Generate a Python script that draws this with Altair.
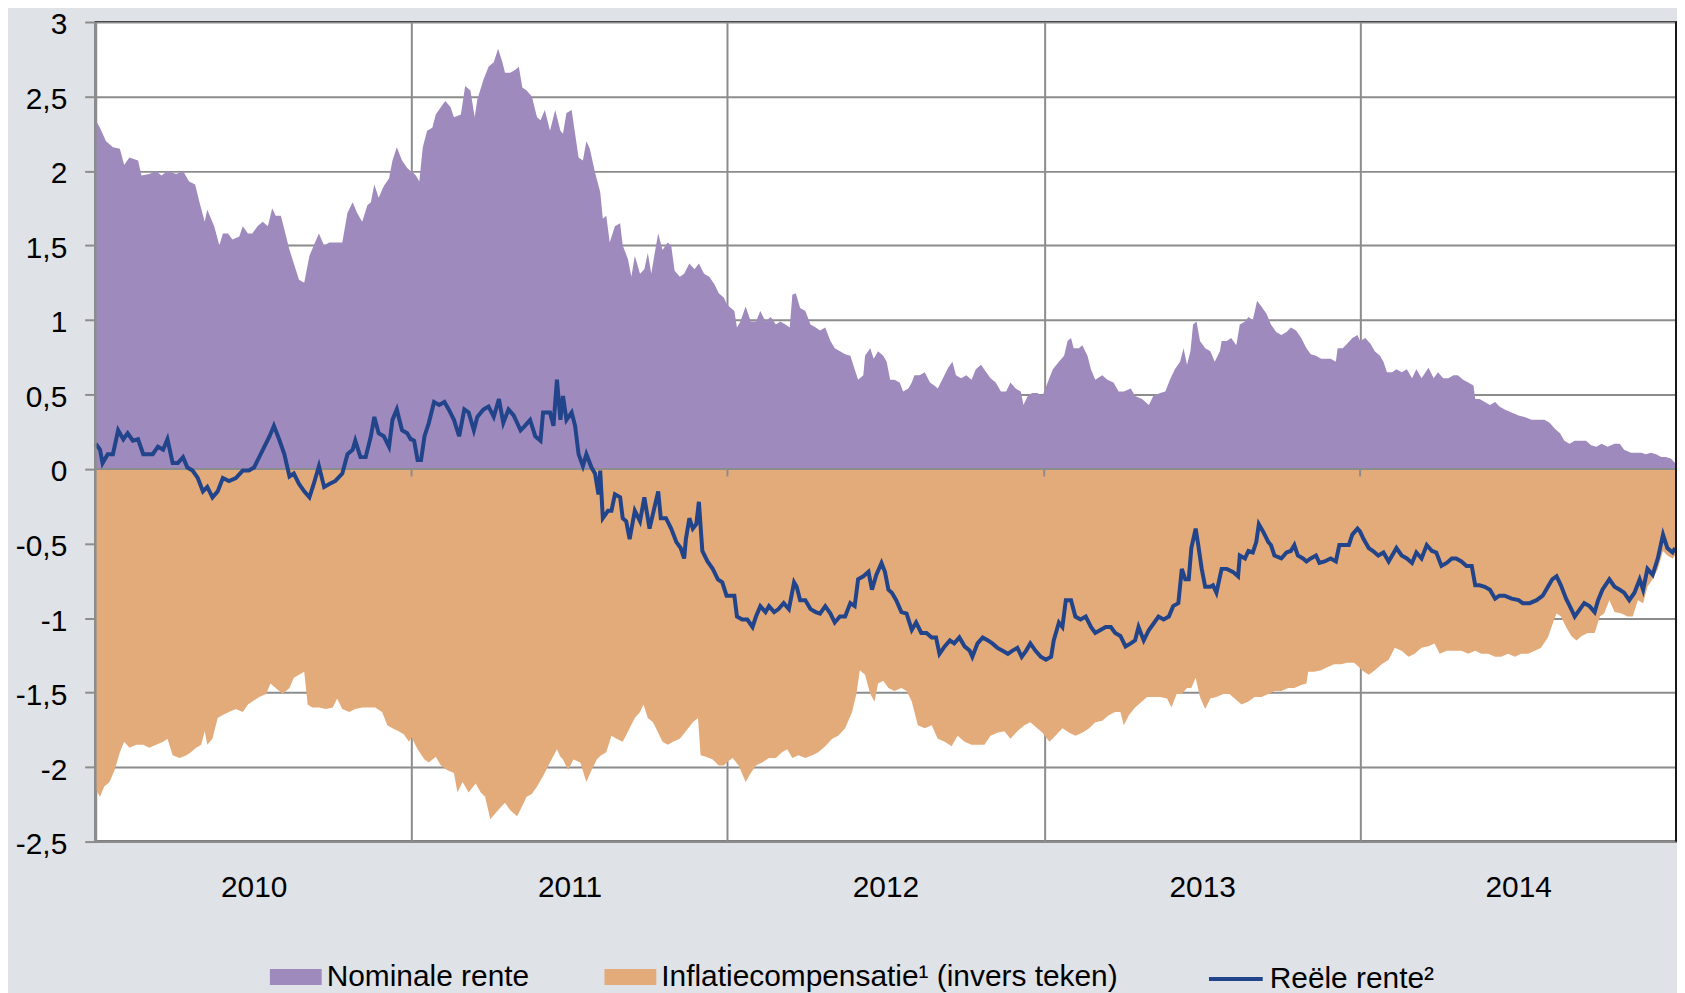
import altair as alt
import pandas as pd

# ---------------- data ----------------
YEARS = [2010, 2011, 2012, 2013, 2014]
Y_TICKS = [-2.5, -2, -1.5, -1, -0.5, 0, 0.5, 1, 1.5, 2, 2.5, 3]

NOM_LABEL = "Nominale rente"
INF_LABEL = "Inflatiecompensatie¹ (invers teken)"
REAL_LABEL = "Reële rente²"

# Nominale rente (day of year, value)
NOM_2010_DAYS = [0,5,12,20,28,33,39,49,53,62,70,76,83,93,101,108,115,120,126,129,137,143,147,153,158,166,170,176,181,187,193,199,204,208,214,218,224,229,235,241,247,252,258,264,270,277,285,291,297,302,308,314,318,322,327,333,339,343,348,354,360,364]
NOM_2010 = [2.34,2.29,2.20,2.16,2.15,2.04,2.09,2.07,1.97,1.98,2.00,1.97,2.00,1.98,2.00,1.93,1.91,1.79,1.66,1.74,1.63,1.50,1.58,1.58,1.54,1.56,1.63,1.58,1.58,1.63,1.66,1.63,1.75,1.70,1.70,1.61,1.47,1.38,1.27,1.25,1.43,1.50,1.58,1.50,1.52,1.52,1.52,1.72,1.79,1.72,1.66,1.77,1.79,1.91,1.82,1.90,1.95,2.07,2.16,2.07,2.02,2.00]
NOM_2011_DAYS = [0,5,9,13,18,24,28,34,39,45,49,57,62,68,73,76,83,89,95,100,105,108,114,120,124,128,133,139,145,149,154,160,166,172,175,179,185,189,193,198,202,206,212,218,221,225,229,235,241,244,250,254,258,264,269,273,277,281,285,290,296,300,304,310,315,321,327,332,338,344,350,355,361,364]
NOM_2011 = [2.00,1.97,1.93,2.16,2.27,2.29,2.38,2.43,2.47,2.43,2.36,2.38,2.57,2.54,2.36,2.48,2.61,2.70,2.73,2.82,2.73,2.66,2.66,2.68,2.70,2.56,2.54,2.50,2.36,2.34,2.41,2.27,2.41,2.27,2.25,2.39,2.41,2.25,2.09,2.07,2.20,2.15,1.99,1.86,1.68,1.70,1.52,1.63,1.65,1.50,1.41,1.29,1.43,1.31,1.34,1.45,1.31,1.45,1.58,1.47,1.52,1.50,1.33,1.29,1.31,1.38,1.34,1.38,1.31,1.29,1.24,1.18,1.15,1.11]
NOM_2012_DAYS = [2,8,11,15,21,27,33,38,44,50,56,61,67,72,75,79,84,90,96,102,107,113,119,124,130,136,142,147,151,157,159,165,169,174,180,184,188,193,199,203,209,213,216,222,228,234,239,243,249,255,260,264,270,276,282,287,293,299,304,310,316,322,327,333,339,342,347,352,358,364]
NOM_2012 = [1.09,1.06,0.95,0.99,1.09,0.99,0.99,1.06,0.99,1.02,0.97,0.99,0.97,0.95,1.17,1.18,1.08,1.06,0.97,0.95,0.93,0.95,0.86,0.81,0.79,0.77,0.76,0.67,0.60,0.63,0.76,0.81,0.74,0.79,0.76,0.72,0.60,0.60,0.58,0.52,0.54,0.58,0.63,0.63,0.65,0.58,0.56,0.54,0.61,0.68,0.72,0.63,0.61,0.63,0.60,0.67,0.70,0.65,0.61,0.58,0.52,0.52,0.58,0.54,0.52,0.43,0.49,0.51,0.51,0.49]
NOM_2013_DAYS = [4,10,17,23,27,31,34,40,44,50,54,59,67,73,80,86,92,100,105,113,121,126,134,140,146,151,157,161,165,169,172,176,180,186,192,197,203,205,211,216,222,226,232,236,241,246,251,257,262,268,274,280,285,291,297,303,308,314,320,326,331,337,339,345,350,356,362]
NOM_2013 = [0.58,0.67,0.72,0.76,0.86,0.88,0.81,0.81,0.83,0.76,0.67,0.60,0.63,0.60,0.58,0.52,0.52,0.54,0.49,0.47,0.43,0.49,0.51,0.52,0.61,0.67,0.72,0.81,0.70,0.79,0.97,0.99,0.86,0.81,0.79,0.72,0.79,0.86,0.86,0.88,0.83,0.97,0.99,1.02,1.00,1.13,1.09,1.04,0.97,0.92,0.90,0.92,0.95,0.93,0.88,0.81,0.77,0.76,0.74,0.74,0.74,0.72,0.81,0.81,0.84,0.88,0.90]
NOM_2014_DAYS = [0,6,12,17,23,27,31,37,42,48,54,60,65,71,79,85,90,96,102,108,113,119,125,131,133,138,144,150,156,161,167,175,183,190,198,206,213,219,225,231,236,242,248,256,261,267,273,279,286,294,300,305,313,319,325,330,336,342,348,353,359,364]
NOM_2014 = [0.86,0.88,0.84,0.79,0.76,0.72,0.65,0.65,0.67,0.65,0.67,0.61,0.67,0.61,0.68,0.61,0.65,0.61,0.61,0.63,0.63,0.60,0.58,0.56,0.47,0.47,0.45,0.43,0.45,0.42,0.40,0.38,0.36,0.35,0.33,0.33,0.33,0.31,0.27,0.24,0.19,0.17,0.19,0.19,0.19,0.16,0.15,0.17,0.15,0.17,0.17,0.13,0.11,0.11,0.11,0.10,0.11,0.10,0.08,0.08,0.07,0.04]

# Inflatiecompensatie, invers teken (day of year, value)
INF_2010_DAYS = [0,5,10,16,22,28,33,39,47,55,62,70,78,83,89,97,105,110,116,122,126,129,135,141,147,154,162,170,176,181,189,197,202,208,216,224,229,235,241,245,250,258,266,274,279,285,293,300,308,316,323,331,337,343,350,356,362]
INF_2010 = [-2.15,-2.20,-2.13,-2.10,-2.02,-1.90,-1.83,-1.87,-1.85,-1.85,-1.87,-1.85,-1.83,-1.81,-1.92,-1.94,-1.92,-1.90,-1.87,-1.85,-1.76,-1.85,-1.81,-1.67,-1.65,-1.63,-1.61,-1.63,-1.58,-1.56,-1.53,-1.51,-1.44,-1.47,-1.51,-1.47,-1.40,-1.38,-1.36,-1.58,-1.60,-1.60,-1.61,-1.60,-1.54,-1.61,-1.63,-1.61,-1.60,-1.60,-1.60,-1.63,-1.72,-1.74,-1.76,-1.78,-1.83]
INF_2011_DAYS = [0,7,15,20,28,34,41,49,53,59,66,74,80,85,91,97,103,108,114,122,128,133,139,145,152,160,168,172,175,181,187,195,202,208,214,219,225,231,237,244,252,258,264,268,273,279,285,290,296,302,310,317,325,331,334,340,348,355,361,364]
INF_2011 = [-1.80,-1.88,-1.95,-1.97,-1.93,-1.99,-2.02,-2.04,-2.17,-2.10,-2.17,-2.11,-2.17,-2.20,-2.35,-2.31,-2.27,-2.24,-2.29,-2.33,-2.26,-2.20,-2.18,-2.13,-2.06,-1.97,-1.88,-1.93,-1.95,-2.02,-1.95,-1.97,-2.10,-2.02,-1.95,-1.92,-1.90,-1.79,-1.81,-1.83,-1.74,-1.67,-1.63,-1.58,-1.67,-1.70,-1.77,-1.83,-1.85,-1.83,-1.81,-1.76,-1.70,-1.67,-1.92,-1.93,-1.95,-1.99,-1.99,-1.97]
INF_2012_DAYS = [6,13,21,27,33,40,48,56,63,69,75,82,90,98,105,113,121,128,136,144,149,153,159,165,170,174,180,186,193,201,207,213,220,228,236,243,251,259,266,274,282,289,297,304,312,320,327,335,343,350,358,364]
INF_2012 = [-1.94,-1.99,-2.10,-2.04,-1.99,-1.97,-1.94,-1.94,-1.90,-1.88,-1.94,-1.92,-1.94,-1.92,-1.90,-1.86,-1.81,-1.79,-1.74,-1.63,-1.51,-1.35,-1.38,-1.51,-1.56,-1.44,-1.42,-1.47,-1.49,-1.47,-1.49,-1.56,-1.72,-1.74,-1.72,-1.81,-1.83,-1.86,-1.79,-1.83,-1.85,-1.85,-1.85,-1.79,-1.77,-1.76,-1.81,-1.76,-1.72,-1.70,-1.74,-1.77]
INF_2013_DAYS = [6,13,21,29,36,44,52,59,67,75,82,88,92,98,105,113,119,126,134,142,147,153,159,165,170,175,180,186,192,199,207,214,220,228,236,243,251,259,266,274,282,289,297,303,305,312,320,327,335,343,350,358,364]
INF_2013 = [-1.83,-1.79,-1.74,-1.77,-1.79,-1.77,-1.74,-1.70,-1.69,-1.65,-1.63,-1.63,-1.72,-1.65,-1.60,-1.56,-1.53,-1.53,-1.53,-1.54,-1.60,-1.51,-1.51,-1.47,-1.47,-1.40,-1.53,-1.61,-1.54,-1.53,-1.51,-1.51,-1.54,-1.58,-1.56,-1.53,-1.53,-1.51,-1.49,-1.49,-1.47,-1.47,-1.45,-1.44,-1.36,-1.36,-1.35,-1.33,-1.31,-1.31,-1.30,-1.30,-1.33]
INF_2014_DAYS = [2,10,17,25,33,40,48,56,63,71,79,86,92,100,108,117,125,133,140,148,156,163,171,179,186,194,202,209,217,223,227,232,238,244,250,256,263,271,277,282,288,294,302,309,315,321,327,332,338,344,350,355,361,364]
INF_2014 = [-1.35,-1.38,-1.35,-1.31,-1.28,-1.20,-1.22,-1.26,-1.24,-1.20,-1.19,-1.17,-1.24,-1.22,-1.22,-1.22,-1.24,-1.22,-1.24,-1.24,-1.26,-1.26,-1.24,-1.26,-1.24,-1.24,-1.22,-1.20,-1.13,-1.03,-0.97,-0.99,-1.06,-1.12,-1.15,-1.12,-1.10,-1.10,-0.99,-0.97,-0.88,-0.96,-0.97,-0.99,-0.99,-0.88,-0.90,-0.79,-0.74,-0.67,-0.55,-0.58,-0.60,-0.58]

# Reele rente (day of year, value)
REAL_2010_DAYS = [0,5,8,14,20,26,32,37,43,49,55,60,66,72,78,83,89,95,101,106,112,118,124,129,135,141,147,154,162,170,177,183,189,195,201,206,212,218,224,229,235,241,247,252,258,264,270,277,285,291,297,300,306,312,318,322,327,333,339,343,348,354,360,364]
REAL_2010 = [0.17,0.13,0.04,0.10,0.10,0.26,0.20,0.24,0.19,0.20,0.10,0.10,0.10,0.15,0.13,0.20,0.04,0.04,0.08,0.01,-0.01,-0.06,-0.15,-0.12,-0.19,-0.15,-0.06,-0.08,-0.06,-0.01,-0.01,0.01,0.08,0.15,0.22,0.29,0.20,0.10,-0.05,-0.03,-0.10,-0.15,-0.19,-0.10,0.02,-0.12,-0.10,-0.08,-0.03,0.10,0.13,0.19,0.08,0.08,0.22,0.35,0.24,0.22,0.15,0.33,0.40,0.26,0.24,0.20]
REAL_2011_DAYS = [0,3,7,11,15,20,26,32,38,43,49,55,61,66,72,76,83,89,95,101,106,112,118,126,131,137,143,149,152,160,164,168,172,175,179,185,189,193,198,202,208,212,216,218,221,227,231,235,241,244,248,252,258,264,269,275,279,285,288,294,300,306,311,315,317,321,325,329,332,336,342,348,354,359,364]
REAL_2011 = [0.20,0.19,0.06,0.06,0.22,0.31,0.45,0.43,0.45,0.40,0.33,0.22,0.40,0.38,0.26,0.35,0.40,0.42,0.35,0.47,0.31,0.40,0.36,0.26,0.29,0.33,0.22,0.19,0.38,0.38,0.29,0.60,0.33,0.49,0.33,0.38,0.29,0.10,0.02,0.10,0.01,-0.03,-0.17,-0.01,-0.33,-0.28,-0.28,-0.17,-0.19,-0.33,-0.35,-0.47,-0.28,-0.35,-0.19,-0.40,-0.30,-0.15,-0.33,-0.33,-0.40,-0.49,-0.53,-0.60,-0.47,-0.33,-0.40,-0.37,-0.22,-0.55,-0.62,-0.67,-0.74,-0.76,-0.85]
REAL_2012_DAYS = [2,8,11,17,23,29,33,38,44,48,54,59,65,71,77,80,84,90,96,102,107,113,119,124,130,136,142,147,151,157,163,167,172,178,182,186,190,195,201,207,213,218,224,230,236,241,245,251,257,262,268,274,280,283,289,295,301,306,312,318,324,329,335,340,345,350,356,362]
REAL_2012 = [-0.85,-0.85,-0.99,-1.01,-1.01,-1.06,-0.99,-0.92,-0.96,-0.92,-0.96,-0.94,-0.90,-0.94,-0.76,-0.79,-0.88,-0.88,-0.94,-0.96,-0.97,-0.92,-0.97,-1.03,-0.99,-0.99,-0.90,-0.92,-0.74,-0.72,-0.69,-0.81,-0.71,-0.63,-0.69,-0.81,-0.83,-0.88,-0.96,-0.97,-1.08,-1.03,-1.10,-1.10,-1.13,-1.13,-1.24,-1.19,-1.15,-1.17,-1.13,-1.19,-1.22,-1.26,-1.17,-1.13,-1.15,-1.17,-1.20,-1.22,-1.24,-1.22,-1.20,-1.26,-1.22,-1.17,-1.22,-1.26]
REAL_2013_DAYS = [2,8,11,17,21,25,31,36,42,48,54,59,65,71,77,82,88,94,100,105,109,115,121,126,132,138,144,149,155,159,163,167,170,175,178,182,186,192,195,199,205,211,218,224,226,232,236,241,245,248,253,259,262,266,274,280,285,289,293,299,303,308,314,318,324,331,337,341,347,352,356,362]
REAL_2013 = [-1.28,-1.26,-1.15,-1.03,-1.06,-0.88,-0.88,-0.99,-1.01,-0.99,-1.06,-1.10,-1.08,-1.06,-1.06,-1.10,-1.12,-1.19,-1.17,-1.15,-1.06,-1.15,-1.08,-1.04,-0.99,-1.01,-0.99,-0.92,-0.90,-0.67,-0.74,-0.74,-0.53,-0.40,-0.51,-0.67,-0.79,-0.79,-0.78,-0.83,-0.67,-0.67,-0.69,-0.72,-0.58,-0.60,-0.55,-0.56,-0.49,-0.37,-0.42,-0.49,-0.51,-0.58,-0.60,-0.56,-0.55,-0.51,-0.58,-0.60,-0.62,-0.60,-0.58,-0.63,-0.62,-0.60,-0.62,-0.51,-0.51,-0.51,-0.44,-0.40]
REAL_2014_DAYS = [0,4,10,15,21,27,33,37,42,48,54,60,65,71,77,83,88,94,100,106,111,117,123,129,133,138,144,150,156,161,167,175,183,188,196,204,211,217,222,227,232,238,244,248,254,259,265,271,275,280,288,294,300,305,311,317,323,327,332,338,344,350,355,361,364]
REAL_2014 = [-0.42,-0.47,-0.53,-0.55,-0.58,-0.56,-0.62,-0.58,-0.53,-0.58,-0.60,-0.63,-0.56,-0.60,-0.51,-0.55,-0.56,-0.65,-0.63,-0.60,-0.60,-0.62,-0.65,-0.65,-0.78,-0.78,-0.79,-0.81,-0.87,-0.85,-0.85,-0.87,-0.88,-0.90,-0.90,-0.88,-0.85,-0.79,-0.74,-0.72,-0.78,-0.87,-0.94,-0.99,-0.94,-0.90,-0.92,-0.96,-0.88,-0.81,-0.74,-0.79,-0.81,-0.83,-0.88,-0.83,-0.74,-0.81,-0.67,-0.71,-0.60,-0.44,-0.53,-0.56,-0.53]


def build(chunks, label):
    rows = []
    for year, days, vals in chunks:
        base = pd.Timestamp(year=year, month=1, day=1)
        for d, v in zip(days, vals, strict=True):
            rows.append({"date": (base + pd.Timedelta(days=d)).strftime("%Y-%m-%d"),
                         "value": v, "series": label})
    return pd.DataFrame(rows)


nom_df = build([(2010, NOM_2010_DAYS, NOM_2010), (2011, NOM_2011_DAYS, NOM_2011),
                (2012, NOM_2012_DAYS, NOM_2012), (2013, NOM_2013_DAYS, NOM_2013),
                (2014, NOM_2014_DAYS, NOM_2014)], NOM_LABEL)
inf_df = build([(2010, INF_2010_DAYS, INF_2010), (2011, INF_2011_DAYS, INF_2011),
                (2012, INF_2012_DAYS, INF_2012), (2013, INF_2013_DAYS, INF_2013),
                (2014, INF_2014_DAYS, INF_2014)], INF_LABEL)
real_df = build([(2010, REAL_2010_DAYS, REAL_2010), (2011, REAL_2011_DAYS, REAL_2011),
                 (2012, REAL_2012_DAYS, REAL_2012), (2013, REAL_2013_DAYS, REAL_2013),
                 (2014, REAL_2014_DAYS, REAL_2014)], REAL_LABEL)
year_df = pd.DataFrame({"date": [f"{y}-01-01" for y in YEARS[1:]]})

# ---------------- styling ----------------
W, H = 1587, 823
FONT = "Liberation Sans"
GRID = "#8c8c8c"
BG = "#dfe2e7"
PURPLE = "#9e8abd"
ORANGE = "#e3ab7a"
BLUE = "#21448b"

x_scale = alt.Scale(type="utc", domain=[alt.DateTime(year=2010, month=1, date=1, utc=True),
                                        alt.DateTime(year=2015, month=1, date=1, utc=True)])
y_scale = alt.Scale(domain=[-2.5, 3], nice=False, zero=False)

x_axis = alt.Axis(values=[alt.DateTime(year=y, month=1, date=1, utc=True) for y in YEARS],
                  labelExpr="utcFormat(datum.value, '%Y')", labelOffset=W / 10,
                  labelAlign="center", labelFlush=False, labelOverlap=False,
                  labelFontSize=30, labelFont=FONT, labelPadding=31, labelColor="black",
                  ticks=False, domain=False, grid=True, gridColor=GRID, gridWidth=2,
                  title=None)
y_axis = alt.Axis(values=Y_TICKS, labelExpr="replace(toString(datum.value), '.', ',')",
                  labelFontSize=30, labelFont=FONT, labelPadding=18, labelColor="black",
                  labelOffset=3,
                  tickSize=11, tickWidth=2, tickColor=GRID, domainColor=GRID, domainWidth=2,
                  grid=True, gridColor=GRID, gridWidth=2, title=None)

fill_scale = alt.Scale(domain=[NOM_LABEL, INF_LABEL], range=[PURPLE, ORANGE])
stroke_scale = alt.Scale(domain=[REAL_LABEL], range=[BLUE])

fill_legend = alt.Legend(orient="none", legendX=175, legendY=933, direction="horizontal",
                         columns=2, columnPadding=75, rowPadding=0, padding=0,
                         symbolType="M-1,-0.3077H1V0.3077H-1Z", symbolSize=2704,
                         symbolStrokeWidth=0, symbolOpacity=1,
                         labelFontSize=30, labelFont=FONT, labelColor="black",
                         labelOffset=5, labelLimit=2000, title=None)
stroke_legend = alt.Legend(orient="none", legendX=1116, legendY=932, padding=0,
                           symbolType="stroke", symbolSize=2916, symbolStrokeWidth=4,
                           labelFontSize=30, labelFont=FONT, labelColor="black",
                           labelOffset=5, labelLimit=2000, title=None)


def area_layer(df):
    return alt.Chart(df).mark_area(opacity=1, interpolate="linear").encode(
        x=alt.X("date:T", scale=x_scale, axis=x_axis),
        y=alt.Y("value:Q", scale=y_scale, axis=y_axis, stack=None),
        y2=alt.datum(0),
        fill=alt.Fill("series:N", scale=fill_scale, legend=fill_legend),
    )


nom_area = area_layer(nom_df)
inf_area = area_layer(inf_df)

zero_rule = alt.Chart(alt.Data(values=[{}])).mark_rule(color=GRID, strokeWidth=2).encode(
    y=alt.datum(0))

# small category-axis ticks hanging below the zero line at the year boundaries
zero_ticks = alt.Chart(year_df).mark_rule(color=GRID, strokeWidth=2).encode(
    x=alt.X("date:T", scale=x_scale),
    y=alt.datum(0),
    y2=alt.datum(-0.05),
)

real_line = alt.Chart(real_df).mark_line(strokeWidth=4, interpolate="linear").encode(
    x=alt.X("date:T", scale=x_scale),
    y=alt.Y("value:Q", scale=y_scale),
    stroke=alt.Stroke("series:N", scale=stroke_scale, legend=stroke_legend),
)

left_rule = alt.Chart(alt.Data(values=[{}])).mark_rule(color=GRID, strokeWidth=2).encode(
    x=alt.value(0), y=alt.value(0), y2=alt.value(H))
right_rule = alt.Chart(alt.Data(values=[{}])).mark_rule(color="#1a1a1a", strokeWidth=2).encode(
    x=alt.value(W), y=alt.value(0), y2=alt.value(H))

chart = alt.layer(nom_area, inf_area, zero_rule, zero_ticks, real_line, left_rule,
                  right_rule).properties(
    width=W, height=H,
    autosize=alt.AutoSizeParams(type="none"),
    padding={"left": 88, "top": 12, "right": 1, "bottom": 150},
).configure(background=BG, font=FONT).configure_view(
    fill="white", stroke="black", strokeWidth=2)

chart.save("out.html", embed_options={"renderer": "svg", "actions": False})
